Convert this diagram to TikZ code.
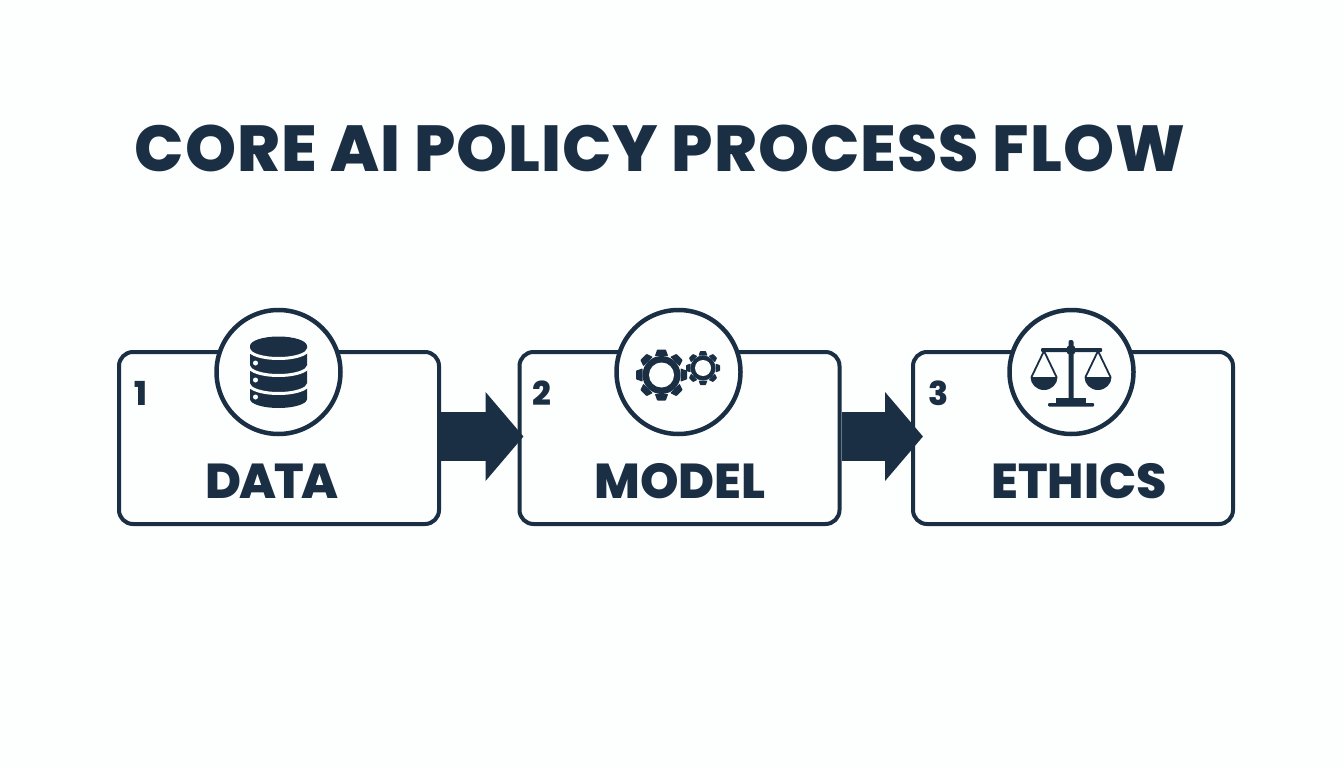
\documentclass[tikz,border=0pt]{standalone}
\usepackage{fontspec}
\setmainfont{Poppins}[BoldFont=Poppins ExtraBold]
\usetikzlibrary{arrows.meta}
\definecolor{navy}{HTML}{1B2F44}
\definecolor{paper}{HTML}{FDFEFE}
\tikzset{
  stepbox/.style={draw=navy,line width=4pt,rounded corners=14pt,fill=paper,minimum width=320pt,minimum height=172pt,inner sep=0pt},
  iconring/.style={draw=navy,line width=4.5pt,fill=paper,circle,minimum size=124pt,inner sep=0pt},
  titletext/.style={text=navy,inner sep=0pt,font=\fontsize{65}{65}\selectfont\bfseries\addfontfeature{LetterSpace=1.6}},
  labeltext/.style={text=navy,inner sep=0pt,font=\fontsize{49}{49}\selectfont\bfseries},
  numtext/.style={text=navy,inner sep=0pt,font=\fontsize{33}{33}\selectfont\bfseries},
  flowarrow/.style={draw=navy,line width=49pt,-{Triangle[length=38pt,width=87pt]}},
}
\newcommand{\gearicon}[5]{% x,y,outer,root,hole
  \begin{scope}[shift={(#1,#2)}]
    \fill[navy] (0,0) circle[radius=#4];
    \foreach \a in {0,45,...,315}{
      \fill[navy,rotate=\a,rounded corners=0.6pt] (-0.26*#3,-#4) -- (-0.17*#3,-#3) -- (0.17*#3,-#3) -- (0.26*#3,-#4) -- cycle;
    }
    \fill[paper] (0,0) circle[radius=#5];
  \end{scope}
}
\begin{document}
\begin{tikzpicture}[x=1pt,y=-1pt]
\useasboundingbox[fill=paper] (0,0) rectangle (1344,768);
\node[titletext] (title) at (660,148) {CORE AI POLICY PROCESS FLOW};

\node[stepbox] (box1) at (279,438) {};
\node[stepbox] (box2) at (679.5,438) {};
\node[stepbox] (box3) at (1073,438) {};

\node[iconring] (ring1) at (278.5,372) {};
\node[iconring] (ring2) at (678.5,372) {};
\node[iconring] (ring3) at (1071.5,372) {};

\node[numtext] (n1) at (141,393) {1};
\node[numtext] (n2) at (542,393) {2};
\node[numtext] (n3) at (939,393) {3};

\node[labeltext,font=\fontsize{49}{49}\selectfont\bfseries\addfontfeature{LetterSpace=-4.5}] (l1) at (272,481) {DATA};
\node[labeltext] (l2) at (680,481) {MODEL};
\node[labeltext] (l3) at (1079,481) {ETHICS};

\draw[flowarrow] ([yshift=1.5pt]box1.east) -- ([xshift=6pt,yshift=1.5pt]box2.west);
\draw[flowarrow] ([yshift=1.5pt]box2.east) -- ([xshift=12pt,yshift=1.5pt]box3.west);

% database icon
\fill[navy] (250,346) -- (250,399) arc[start angle=180,end angle=360,x radius=28.5,y radius=-9]
  -- (307,346) arc[start angle=0,end angle=180,x radius=28.5,y radius=-9.5] -- cycle;
\foreach \yy in {349,366,384}{
  \draw[paper,line width=3pt] (249,\yy) arc[start angle=180,end angle=360,x radius=29.5,y radius=-9.5];
}
\foreach \yy in {363,380,397}{ \fill[paper] (255.5,\yy) circle[radius=2.5]; }

% gears
\gearicon{661.5}{375}{25.5}{19}{12.5}
\gearicon{703}{368}{17}{12.5}{8}

% scales
\fill[navy,rounded corners=2pt] (1068.5,340) rectangle (1073.5,400);
\fill[navy] (1071,350) circle[radius=5];
\fill[navy,rounded corners=1pt] (1041,348) rectangle (1102,352);
\fill[navy] (1056,398) rectangle (1086,404);
\fill[navy,rounded corners=1pt] (1048,403) rectangle (1094,406.5);
\foreach \cx in {1044,1098}{
  \draw[navy,line width=1.8pt] (\cx-12.5,377) -- (\cx,351) -- (\cx+12.5,377);
  \fill[navy] (\cx-13.5,377) arc[start angle=180,end angle=360,x radius=13.5,y radius=-13] -- cycle;
}
\end{tikzpicture}
\end{document}
